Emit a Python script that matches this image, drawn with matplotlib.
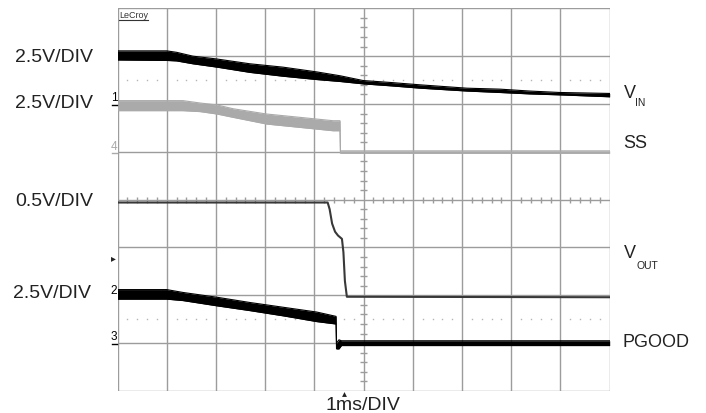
import numpy as np
import matplotlib
matplotlib.use("Agg")
import matplotlib.pyplot as plt

plt.rcParams['font.family'] = ['Liberation Sans', 'DejaVu Sans']

# ---- data (in screen divisions: x 0..10 = time, y 0..8) ----
vin_x = [0, 1.0, 1.2, 1.53, 2.02, 2.69, 3.36, 4.05, 4.52, 4.99, 5.54, 6.15, 7.1, 7.77, 8.38, 8.99, 10]
vin_hi = [7.11, 7.11, 7.08, 7.0, 6.94, 6.84, 6.77, 6.67, 6.59, 6.49, 6.45, 6.40, 6.33, 6.31, 6.27, 6.24, 6.22]
vin_lo = [6.92, 6.91, 6.90, 6.84, 6.77, 6.66, 6.58, 6.51, 6.47, 6.42, 6.38, 6.33, 6.27, 6.24, 6.21, 6.19, 6.15]

ss_x = [0, 1.33, 1.68, 2.02, 2.35, 3.03, 3.71, 4.38, 4.52, 4.53, 10]
ss_hi = [6.07, 6.07, 6.02, 5.98, 5.90, 5.79, 5.72, 5.65, 5.65, 5.02, 5.02]
ss_lo = [5.86, 5.86, 5.84, 5.79, 5.72, 5.58, 5.51, 5.44, 5.44, 4.97, 4.97]

vout_x = [0, 4.27, 4.31, 4.36, 4.42, 4.48, 4.56, 4.59, 4.62, 4.66, 10]
vout_y = [3.94, 3.94, 3.80, 3.50, 3.33, 3.25, 3.18, 2.90, 2.30, 1.97, 1.96]

pg_x = [0, 1.0, 1.33, 2.02, 2.69, 3.37, 4.05, 4.44, 4.45, 4.5, 4.55, 10]
pg_hi = [2.12, 2.12, 2.06, 1.96, 1.85, 1.75, 1.65, 1.56, 1.00, 1.07, 1.05, 1.05]
pg_lo = [1.92, 1.92, 1.89, 1.78, 1.68, 1.57, 1.45, 1.40, 0.88, 0.88, 0.95, 0.95]

scale_labels = ["2.5V/DIV", "2.5V/DIV", "0.5V/DIV", "2.5V/DIV"]
trace_labels = ["V", "SS", "V", "PGOOD"]
time_label = "1ms/DIV"

W, H = 706, 414
fig = plt.figure(figsize=(W / 100, H / 100), dpi=100)
x0, x1, ytop, ybot = 117.5, 609.7, 9.3, 392.0
ax = fig.add_axes([x0 / W, (H - ybot) / H, (x1 - x0) / W, (ybot - ytop) / H])
ax.set_xlim(0, 10)
ax.set_ylim(0, 8)
ax.axis('off')

gcol = '#9c9c9c'
for i in range(11):
    ax.axvline(i, color=gcol, lw=1.0, zorder=1)
for j in range(9):
    ax.axhline(j, color=gcol, lw=1.0, zorder=1)

# centre-cross minor ticks
tx = [v for v in np.arange(0.2, 10.0, 0.2) if abs(v - round(v)) > 1e-6]
ty = [v for v in np.arange(0.2, 8.0, 0.2) if abs(v - round(v)) > 1e-6]
ax.vlines(tx, 4 - 0.065, 4 + 0.065, color=gcol, lw=1.0, zorder=1)
ax.hlines(ty, 5 - 0.065, 5 + 0.065, color=gcol, lw=1.0, zorder=1)

# dotted reference lines
dx = [i + k * 0.2 for i in range(10) for k in range(1, 5)]
for yy in (6.5, 1.5):
    ax.plot(dx, [yy] * len(dx), ls='none', marker='s', ms=1.0, mew=0,
            color='#b5b5b5', zorder=1)

# traces
ax.fill_between(vin_x, vin_lo, vin_hi, color='black', lw=0, zorder=3)
ax.plot(vin_x, vin_hi, color='black', lw=0.8, zorder=3)
ax.plot(vin_x, vin_lo, color='black', lw=0.8, zorder=3)

ax.fill_between(ss_x, ss_lo, ss_hi, color='#aaaaaa', lw=0, zorder=3)
ax.plot(ss_x, ss_hi, color='#aaaaaa', lw=0.8, zorder=3)
ax.plot(ss_x, ss_lo, color='#aaaaaa', lw=0.8, zorder=3)

ax.plot(vout_x, vout_y, color='#383838', lw=1.5, zorder=3, solid_joinstyle='round')

ax.fill_between(pg_x, pg_lo, pg_hi, color='black', lw=0, zorder=3)
ax.plot(pg_x, pg_hi, color='black', lw=0.8, zorder=3)
ax.plot(pg_x, pg_lo, color='black', lw=0.8, zorder=3)

# trigger marker at bottom
ax.plot([4.6], [-0.06], marker='^', ms=3.5, color='#222222', mew=0, clip_on=False)


def P(x, y):
    return x / W, 1 - y / H


# left scale labels
for lab, (lx, ly) in zip(scale_labels, [(15, 57.5), (15, 104), (15, 202), (13, 294)]):
    fig.text(*P(lx, ly), lab, fontsize=14, ha='left', va='center', color='#222222')

# right trace labels
fig.text(*P(624, 93), trace_labels[0], fontsize=13, ha='left', va='center', color='#222222')
fig.text(*P(635.5, 103.5), "IN", fontsize=7.5, ha='left', va='center', color='#222222')
fig.text(*P(623, 144), trace_labels[1], fontsize=13, ha='left', va='center', color='#222222')
fig.text(*P(624, 254), trace_labels[2], fontsize=13, ha='left', va='center', color='#222222')
fig.text(*P(636.5, 266), "OUT", fontsize=7.5, ha='left', va='center', color='#222222')
fig.text(*P(623, 342.5), trace_labels[3], fontsize=13, ha='left', va='center', color='#222222')

# bottom time label
fig.text(*P(363, 406), time_label, fontsize=14, ha='center', va='center', color='#222222')

# channel ground markers
for ch, (mx, my, col, ul) in {"1": (114, 98.5, 'black', 105.5),
                               "4": (114, 146.5, '#aaaaaa', 153.5),
                               "2": (114, 291, 'black', None),
                               "3": (114, 337.5, 'black', 344.5)}.items():
    fig.text(*P(mx, my), ch, fontsize=8.5, ha='center', va='center', color=col)
    if ul is not None:
        fig.add_artist(plt.Line2D([111.5 / W, 117 / W], [1 - ul / H, 1 - ul / H],
                                  color=col, lw=1.0))
fig.text(*P(113.5, 258.5), "\u25b8", fontsize=7, ha='center', va='center', color='#222222',
         family=['DejaVu Sans'])

# LeCroy logo
fig.text(*P(119, 15.5), "LeCroy", fontsize=6.5, ha='left', va='center', color='#333333')
fig.add_artist(plt.Line2D([118.5 / W, 148 / W], [1 - 21 / H, 1 - 21 / H], color='#333333', lw=0.8))

fig.savefig("out.png", dpi=100)
